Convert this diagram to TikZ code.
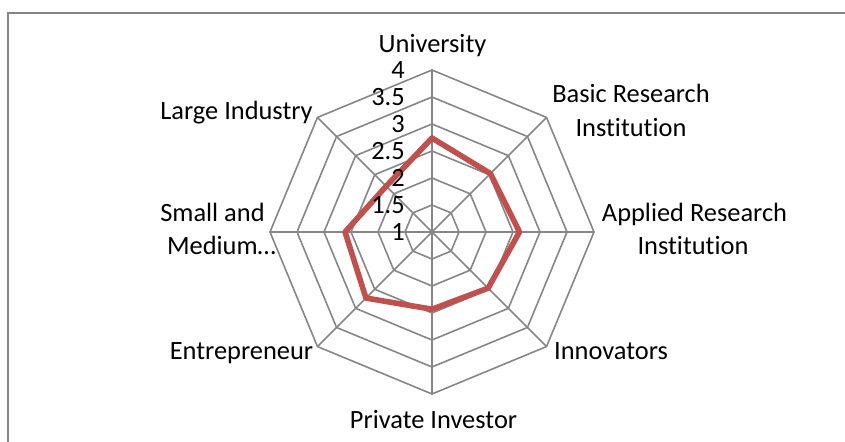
\documentclass[tikz,border=0pt]{standalone}
\usepackage{fontspec}
\setmainfont[Ligatures=NoCommon]{Carlito}
\definecolor{gridgray}{HTML}{868686}
\definecolor{seriesred}{HTML}{C0504D}
\begin{document}
\begin{tikzpicture}[x=0.75pt,y=0.75pt,
  grid/.style={draw=gridgray,line width=1.2pt},
  frameline/.style={draw=gridgray,line width=1.7pt},
  series/.style={draw=seriesred,line width=4.2pt,line join=round},
  lab/.style={font=\fontsize{19.8}{24}\selectfont,inner sep=0pt,text=black,anchor=base},
  num/.style={lab,anchor=base east}]
\useasboundingbox (0,0) rectangle (845,442);
\coordinate (C) at (432,210);
% outer frame (only top and left edges visible)
\draw[frameline] (845,429) -- (8,429) -- (8,0);
% rings
\foreach \k in {1,...,6}{
  \pgfmathsetmacro{\r}{27*\k}
  \draw[grid,shift={(C)}] (90:\r) -- (45:\r) -- (0:\r) -- (-45:\r) -- (-90:\r) -- (-135:\r) -- (180:\r) -- (135:\r) -- cycle;
}
% spokes
\foreach \a in {90,45,0,-45,-90,-135,180,135}
  \draw[grid] (C) -- ++(\a:162);
% data series
\draw[series,shift={(C)}]
  (90:{(2.74-1)*54}) -- (45:{(2.53-1)*54}) -- (0:{(2.62-1)*54}) --
  (-45:{(2.47-1)*54}) -- (-90:{(2.43-1)*54}) -- (-135:{(2.73-1)*54}) --
  (180:{(2.61-1)*54}) -- (135:{(2.2-1)*54}) -- cycle;
% axis value labels
\node[num] (v4)  at (405,363) {4};
\node[num] (v35) at (405,336) {3.5};
\node[num] (v3)  at (405,309) {3};
\node[num] (v25) at (405,282) {2.5};
\node[num] (v2)  at (405,255) {2};
\node[num] (v15) at (405,228) {1.5};
\node[num] (v1)  at (405,201) {1};
% category labels
\node[lab] (univ) at (432.5,389) {University};
\node[lab] (basic1) at (631,339) {Basic Research};
\node[lab] (basic2) at (631,305) {Institution};
\node[lab] (appl1) at (694.5,220) {Applied Research};
\node[lab] (appl2) at (693,187) {Institution};
\node[lab] (innov) at (611,82.5) {Innovators};
\node[lab] (priv) at (433.5,13) {Private Investor};
\node[lab] (entre) at (241.5,82.5) {Entrepreneur};
\node[lab] (sme1) at (212.5,220) {Small and};
\node[lab] (sme2) at (221.5,187) {Medium…};
\node[lab] (large) at (236.5,322) {Large Industry};
\end{tikzpicture}
\end{document}
